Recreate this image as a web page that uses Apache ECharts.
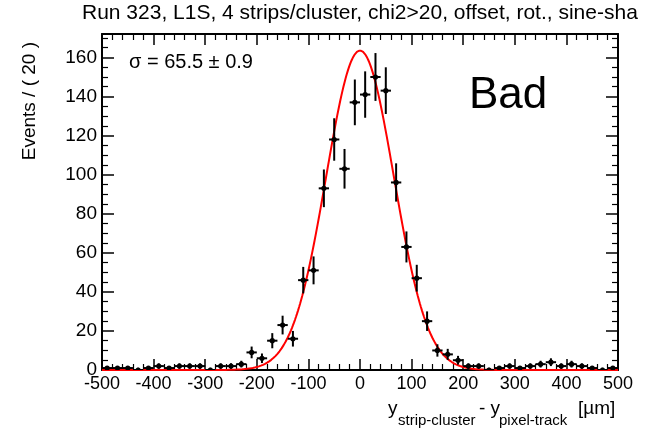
<!DOCTYPE html>
<html><head><meta charset="utf-8">
<script src="https://cdn.jsdelivr.net/npm/echarts@6/dist/echarts.min.js"></script>
<style>html,body{margin:0;padding:0;background:#fff}#c{width:654px;height:434px}</style>
</head><body><div id="c"></div>
<script>
// Bin centres (µm), bin width 20
const binCenters = [-490,-470,-450,-430,-410,-390,-370,-350,-330,-310,-290,-270,-250,-230,-210,-190,-170,-150,-130,-110,-90,-70,-50,-30,-10,10,30,50,70,90,110,130,150,170,190,210,230,250,270,290,310,330,350,370,390,410,430,450,470,490];
const counts = [1,1,1,0,1,2,1,2,2,2,0,2,2,3,9,6,15,23,16,46,51,93,118,103,137,141,150,143,96,63,47,25,10,8,5,2,2,0,1,2,1,2,3,4,2,3,2,1,0,1];
const binWidth = 20;
// Gaussian fit parameters
const fitAmp = 163.5, fitMean = 0, fitSigma = 65.5;
const xTicks = [-500,-400,-300,-200,-100,0,100,200,300,400,500];
const yTicks = [0,20,40,60,80,100,120,140,160];

const FONT = '"Liberation Sans", Arial, Helvetica, sans-serif';

const pts = binCenters.map((x,i)=>{
  const n = counts[i];
  const e = n>0 ? Math.sqrt(n) : 1.15;
  return [x, n, Math.max(0, n - (n>0?e:0)), n + e];
});
const curve = [];
for (let x = -500; x <= 500; x += 2) {
  curve.push([x, fitAmp*Math.exp(-0.5*Math.pow((x-fitMean)/fitSigma,2))]);
}

const chart = echarts.init(document.getElementById('c'), null, {renderer:'canvas'});
const axisCommonX = {
  type:'value', min:-500, max:500, interval:100,
  axisLine:{show:true, onZero:false, lineStyle:{color:'#000', width:2}},
  axisTick:{show:true, inside:true, length:11, lineStyle:{color:'#000', width:1.5}},
  minorTick:{show:true, splitNumber:5, length:6, lineStyle:{color:'#000', width:1.2}},
  splitLine:{show:false}, minorSplitLine:{show:false}
};
const axisCommonY = {
  type:'value', min:0, max:172, interval:20,
  axisLine:{show:true, onZero:false, lineStyle:{color:'#000', width:2}},
  axisTick:{show:true, inside:true, length:12, lineStyle:{color:'#000', width:1.5}},
  minorTick:{show:true, splitNumber:4, length:6, lineStyle:{color:'#000', width:1.2}},
  splitLine:{show:false}, minorSplitLine:{show:false}
};
chart.setOption({
  animation:false,
  backgroundColor:'#fff',
  grid:{left:102, right:36, top:34, bottom:64, containLabel:false},
  title:{
    text:'Run 323, L1S, 4 strips/cluster, chi2>20, offset, rot., sine-sha',
    left:82, top:3, padding:0,
    textStyle:{fontFamily:FONT, fontSize:21, fontWeight:'normal', color:'#000', width:572, overflow:'truncate', ellipsis:''}
  },
  xAxis:[
    Object.assign({}, axisCommonX, {position:'bottom',
      axisLabel:{show:true, fontFamily:FONT, fontSize:18, color:'#000', margin:5}}),
    Object.assign({}, axisCommonX, {position:'top', axisLabel:{show:false}})
  ],
  yAxis:[
    Object.assign({}, axisCommonY, {position:'left',
      axisLabel:{show:true, fontFamily:FONT, fontSize:19, color:'#000', margin:5, showMaxLabel:false}}),
    Object.assign({}, axisCommonY, {position:'right', axisLabel:{show:false}})
  ],
  series:[
    {type:'line', xAxisIndex:0, yAxisIndex:0, data:curve, showSymbol:false, smooth:false,
     lineStyle:{color:'#ff0000', width:2}, z:2, clip:true},
    {type:'custom', xAxisIndex:0, yAxisIndex:0, data:pts, z:3, clip:true,
     renderItem:function(params, api){
       const x = api.value(0), y = api.value(1), lo = api.value(2), hi = api.value(3);
       const c = api.coord([x,y]);
       const l = api.coord([x-binWidth/2,y]), r = api.coord([x+binWidth/2,y]);
       const pl = api.coord([x,lo]), ph = api.coord([x,hi]);
       return {type:'group', children:[
         {type:'line', shape:{x1:l[0], y1:c[1], x2:r[0], y2:c[1]}, style:{stroke:'#000', lineWidth:2}},
         {type:'line', shape:{x1:c[0], y1:pl[1], x2:c[0], y2:ph[1]}, style:{stroke:'#000', lineWidth:2}},
         {type:'circle', shape:{cx:c[0], cy:c[1], r:2.6}, style:{fill:'#000'}}
       ]};
     }}
  ],
  graphic:[
    {type:'text', left:20, top:42, rotation:Math.PI/2,
     style:{text:'Events / ( 20 )', font:'19px '+FONT, fill:'#000'}},
    {type:'text', x:129, y:62, style:{text:'σ = 65.5 ± 0.9', font:'20px '+FONT, fill:'#000', textVerticalAlign:'middle'}},
    {type:'text', x:469, y:96, style:{text:'Bad', font:'44px '+FONT, fill:'#000', textVerticalAlign:'middle'}},
    {type:'text', x:388, y:409, style:{text:'y', font:'19px '+FONT, fill:'#000', textVerticalAlign:'middle'}},
    {type:'text', x:398, y:421, style:{text:'strip-cluster', font:'15px '+FONT, fill:'#000', textVerticalAlign:'middle'}},
    {type:'text', x:479, y:409, style:{text:'- y', font:'19px '+FONT, fill:'#000', textVerticalAlign:'middle'}},
    {type:'text', x:499, y:421, style:{text:'pixel-track', font:'15px '+FONT, fill:'#000', textVerticalAlign:'middle'}},
    {type:'text', x:578, y:409, style:{text:'[µm]', font:'19px '+FONT, fill:'#000', textVerticalAlign:'middle'}}
  ]
});
</script></body></html>
